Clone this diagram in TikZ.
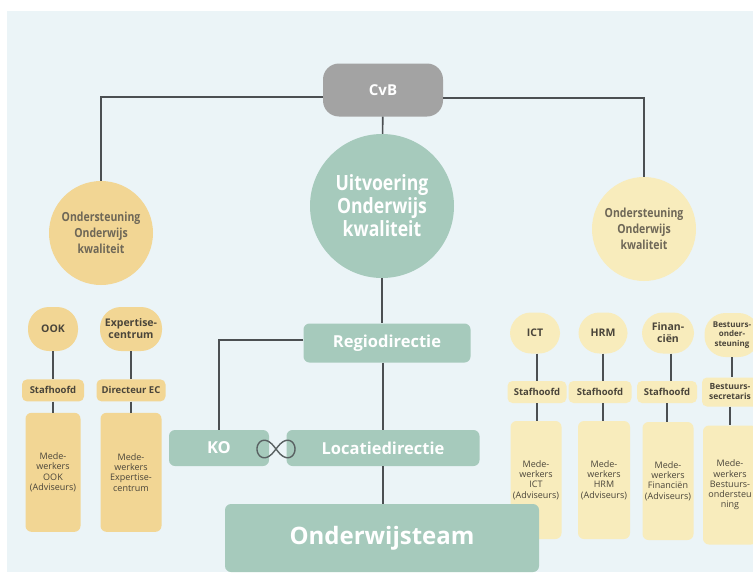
\documentclass[tikz,border=0pt]{standalone}
\usepackage{fontspec}
\setmainfont{Open Sans}
\newfontfamily\condfont{Open Sans}[FakeStretch=0.84]
\usepackage{xcolor}
\usepackage{tikz}
\definecolor{bgblue}{HTML}{EBF4F7}
\definecolor{cvbgray}{HTML}{A3A3A3}
\definecolor{uokgreen}{HTML}{A6CABC}
\definecolor{leftgold}{HTML}{F2D694}
\definecolor{rightgold}{HTML}{F8ECBC}
\definecolor{linegray}{HTML}{4B4F52}
\definecolor{textbrown}{HTML}{4A453A}
\definecolor{softtext}{HTML}{6E6757}
\usetikzlibrary{positioning}

\begin{document}
\begin{tikzpicture}[
    x=1pt, y=-1pt,
    node distance=28pt,
    link/.style={draw=linegray, line width=1.6pt},
    cvbbox/.style={rectangle, fill=cvbgray, rounded corners=16pt,
                   minimum width=120pt, minimum height=53pt, text=white,
                   font=\bfseries\fontsize{15}{18}\selectfont},
    bigcircle/.style={circle, inner sep=0pt, align=center},
    support/.style={bigcircle, minimum size=104pt, text=softtext,
                    font=\condfont\bfseries\fontsize{12.5}{16}\selectfont},
    unit/.style={rectangle, rounded corners=21pt, minimum height=44pt,
                 inner sep=1pt, align=center, text=textbrown,
                 font=\bfseries\fontsize{10.5}{12}\selectfont},
    head/.style={rectangle, rounded corners=5pt, minimum height=22pt,
                 inner sep=1pt, align=center, text=textbrown,
                 font=\bfseries\fontsize{9.5}{10.5}\selectfont},
    staff/.style={rectangle, rounded corners=6pt, minimum height=119pt,
                  inner sep=1pt, align=center, text=textbrown,
                  font=\fontsize{9}{10.3}\selectfont},
    line/.style={rectangle, fill=uokgreen, rounded corners=6pt,
                 minimum height=36pt, text=white,
                 font=\bfseries\fontsize{16.5}{19}\selectfont}
]
    \useasboundingbox (0,0) rectangle (753,573);
    \fill[white] (0,0) rectangle (753,573);
    \fill[bgblue] (7,11) rectangle (753,572);
    \begin{scope}
    \clip (0,0) rectangle (753,573);

    % Top
    \node[cvbbox] (cvb) at (383,90) {CvB};
    \node[bigcircle, fill=uokgreen, minimum size=144pt, text=white,
          font=\condfont\bfseries\fontsize{21}{23}\selectfont] (uok) at (382,206)
          {Uitvoering\\Onderwijs\\kwaliteit};
    \node[support, fill=leftgold] (oklinks) at (101,233) {Ondersteuning\\Onderwijs\\kwaliteit};
    \node[support, fill=rightgold] (okrechts) at (644,229) {Ondersteuning\\Onderwijs\\kwaliteit};

    % Left units
    \node[unit, fill=leftgold, minimum width=50pt] (ook) at (53,329) {OOK};
    \node[unit, fill=leftgold, minimum width=62pt] (ec) at (131,329) {Expertise-\\centrum};
    \node[head, fill=leftgold, minimum width=62pt, below=of ook] (sfook) {Stafhoofd};
    \node[head, fill=leftgold, minimum width=69pt, below=of ec] (dirc) {Directeur EC};
    \node[staff, fill=leftgold, minimum width=55pt, below=11pt of sfook] (mwook)
          {Mede-\\werkers\\OOK\\(Adviseurs)};
    \node[staff, fill=leftgold, minimum width=61pt, below=11pt of dirc] (mwec)
          {Mede-\\werkers\\Expertise-\\centrum};

    % Right units
    \node[unit, fill=rightgold, minimum width=50pt, minimum height=41pt] (ict) at (535,333) {ICT};
    \node[unit, fill=rightgold, minimum width=49pt, minimum height=41pt] (hrm) at (603,333) {HRM};
    \node[unit, fill=rightgold, minimum width=52pt, minimum height=41pt] (fin) at (668,333) {Finan-\\ciën};
    \node[unit, fill=rightgold, minimum width=55pt, minimum height=44pt,
          font=\bfseries\fontsize{8}{9.5}\selectfont] (bo) at (732,335) {Bestuurs-\\onder-\\steuning};
    \node[head, fill=rightgold, minimum width=59pt] (sfict) at (537,392) {Stafhoofd};
    \node[head, fill=rightgold, minimum width=63pt] (sfhrm) at (600,392) {Stafhoofd};
    \node[head, fill=rightgold, minimum width=60pt] (sffin) at (667,392) {Stafhoofd};
    \node[head, fill=rightgold, minimum width=56pt, minimum height=29pt,
          font=\bfseries\fontsize{8.5}{10}\selectfont] (bsec) at (730,392) {Bestuurs-\\secretaris};
    \node[staff, fill=rightgold, minimum width=51pt, minimum height=118pt] (mwict) at (536,480)
          {Mede-\\werkers\\ICT\\(Adviseurs)};
    \node[staff, fill=rightgold, minimum width=52pt, minimum height=118pt] (mwhrm) at (604,480)
          {Mede-\\werkers\\HRM\\(Adviseurs)};
    \node[staff, fill=rightgold, minimum width=51pt, minimum height=118pt] (mwfin) at (668,481)
          {Mede-\\werkers\\Financiën\\(Adviseurs)};
    \node[staff, fill=rightgold, minimum width=54pt] (mwbo) at (730,485)
          {Mede-\\werkers\\Bestuurs-\\ondersteu\\ning};

    % Line organisation
    \node[line, minimum width=167pt, minimum height=39pt] (regio) at (387,343) {Regiodirectie};
    \node[line, minimum width=100pt] (ko) at (219,448) {KO};
    \node[line, minimum width=193pt] (loc) at (383,448) {Locatiedirectie};
    \node[line, minimum width=314pt, minimum height=68pt,
          font=\bfseries\fontsize{24}{28}\selectfont] (ot) at (382,538) {Onderwijsteam};
    \coordinate (inf) at (276,449);

    % Links
    \draw[link] (cvb) -- (uok);
    \draw[link] ([yshift=-7pt]cvb.west) -| (oklinks.north);
    \draw[link] ([yshift=-8pt]cvb.east) -| (okrechts.north);
    \draw[link] (uok.south) -- (uok.south |- regio.north);
    \draw[link] (loc.north |- regio.south) -- (loc.north);
    \draw[link] (loc.south) -- (loc.south |- ot.north);
    \draw[link] ([yshift=3pt]regio.west) -| (ko.north);
    \draw[link] (ook) -- (sfook);
    \draw[link] (sfook) -- (mwook);
    \draw[link] (ec) -- (dirc);
    \draw[link] (dirc) -- (mwec);
    \draw[link] (ict.south -| sfict.north) -- (sfict);
    \draw[link] (sfict) -- (sfict.south |- mwict.north);
    \draw[link] (hrm) -- (hrm.south |- sfhrm.north);
    \draw[link] (sfhrm.south -| hrm) -- (hrm |- mwhrm.north);
    \draw[link] (fin.south -| 671,0) -- (sffin.north -| 671,0);
    \draw[link] (sffin) -- (sffin.south |- mwfin.north);
    \draw[link] (bo) -- (bo.south |- bsec.north);
    \draw[link] (bsec) -- (bsec.south |- mwbo.north);
    \draw[linegray!85!uokgreen, line width=1.4pt, shift={(inf)}]
        plot[domain=0:360, samples=90, smooth]
        ({19*cos(\x)/(1+sin(\x)^2)}, {1.3*19*sin(\x)*cos(\x)/(1+sin(\x)^2)}) -- cycle;
    \end{scope}
\end{tikzpicture}
\end{document}
